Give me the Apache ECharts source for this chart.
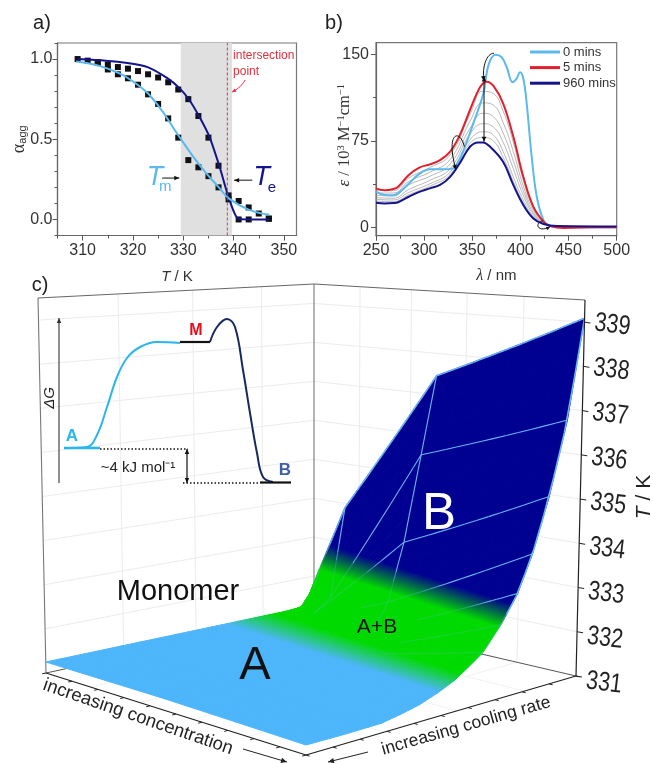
<!DOCTYPE html>
<html>
<head>
<meta charset="utf-8">
<style>html,body{margin:0;padding:0;background:#fff}#c{width:653px;height:763px}</style>
<script src="https://cdn.jsdelivr.net/npm/echarts@6/dist/echarts.min.js"></script>
</head>
<body>
<div id="c"></div>
<script>
// ---------- panel a data ----------
const squareTemps = [309,311,313,315,317,319,321,323,325,327,329,331,333,335,337,339,341,343,345,347];
const squaresUpper = [1,0.99,0.98,0.965,0.95,0.94,0.925,0.905,0.885,0.855,0.81,0.75,0.645,0.51,0.335,0.15,0,0,null,0.005];
const squaresLower = [null,null,0.975,0.935,0.905,0.88,0.84,0.78,0.72,0.63,0.51,0.37,0.325,0.27,0.2,0.125,0.115,0.075,0.037,0.005];
const fitMeltT = [308.7,315,320.9,325,329,333.2,337.2,339.1,343.1,347.1];
const fitMelt = [0.985,0.94,0.84,0.71,0.525,0.34,0.195,0.13,0.06,0.03];
const fitElongT = [309,314.6,318.9,322.9,326.9,329.2,331.2,333.2,335.2,337.2,339,340.9,343.1,347.1];
const fitElong = [1,0.99,0.975,0.95,0.88,0.82,0.745,0.64,0.515,0.33,0.14,0.005,0,0];
const bandRange = [329.5,339.7];
const intersectionT = 338.75;
// ---------- panel b data ----------
const wl0 = [250,259,268,273,284,295,306,320,330,335.5,341,351,361.5,367,374.3,380.5,385.7,392,396,399.6,403,406.5,411.7,417,424,431,445,500];
const eps0 = [31.2,28.3,28,29.7,38,46.5,50.5,50.5,51.3,57,67,90,116,141,149.5,147.4,139,125.8,129,134.4,129,107.6,61.4,26.8,6.6,1.5,0.3,0.5];
const wl5 = [250,259,268,273,284,295,306,316.5,327,337,347.6,358,365,372,382,392.6,403,413.4,424,431,445,479,500];
const eps5 = [34,32.3,33.5,35.5,45.6,52,54.8,58.5,65.8,80,101.8,121.4,126.3,122.6,107.6,78.8,44,18.2,5.2,1.4,-0.3,0.5,0.5];
const wl960 = [250,259,268,273,284,295,306,316.5,327,337,347.6,356,361,368.5,382,392.6,403,413.4,424,438,500];
const eps960 = [21.6,21,21.3,22,26.8,31,34,37,44,55.7,70,73.8,73.8,70,57,37,19.6,8,3.2,1.4,1];
const wlGrey = [250,268,284,306,327,347.6,361,372,382,392.6,403,413.4,424,438,500];
const epsGrey1 = [32.5,32,43,52,63,98,118,116,101,74,41,17,5,1.2,0.6];
const epsGrey2 = [30,30,40,48,59,92,108,106,91,66,36,15,4.5,1.3,0.7];
const epsGrey3 = [28,27.5,37,44.5,55,86,99,96,82,58,32,13,4.2,1.3,0.7];
const epsGrey4 = [26,25.5,33,41,51,81,90,87,74,51,28,11.5,3.8,1.3,0.8];
const epsGrey5 = [24.5,24,30.5,38,48,76,83,80,66,44,24,10,3.5,1.4,0.9];
const epsGrey6 = [23,22.5,28.5,36,46,73,78,75,61,40,21.5,9,3.3,1.4,0.9];
// ---------- panel c data ----------
const concentrationLevels = [0,0.02,0.117,0.456,1];
const coolingLevels = [0,0.14,0.28,0.35,0.42,0.487,0.55,0.6,0.653,0.718,0.778,0.83,0.887,0.947,1];
const surfaceT = [
  [331.25,331.25,331.25,331.25,331.2],
  [331.25,331.25,331.25,331.25,331.19],
  [331.25,331.25,331.25,331.25,331.2],
  [331.25,331.25,331.25,331.25,331.27],
  [331.25,331.25,331.25,331.25,331.36],
  [331.25,331.25,331.25,331.26,331.5],
  [331.25,331.25,331.25,331.27,331.67],
  [331.25,331.25,331.25,331.28,331.87],
  [331.25,331.25,331.27,331.3,332.1],
  [331.25,331.25,331.28,331.3,332.6],
  [331.25,331.28,331.3,331.65,333.2],
  [331.25,331.28,331.3,332.24,334.0],
  [331.25,331.3,331.4,333.58,335.2],
  [331.25,331.35,331.7,335.6,336.84],
  [331.7,332.2,333.9,337.46,339.09]
];
const tTicks = [331,332,333,334,335,336,337,338,339];
// energy diagram (reaction coordinate, free energy)
const pathAX = [5,28,38,48,58,68,81,98,121];
const pathAG = [35,36,48,76,106,125,136,141,140];
const pathBX = [151,158,168,176,184,191,198,204,214];
const pathBG = [141,156,164,156,113,70,30,6,1];

// ---------- projection of the 3D box ----------
const FONT = '"Liberation Sans", Arial, sans-serif';
const SERIF = '"Liberation Serif", serif';
const box = {L:[46,673],F:[306,755],K:[314,615],R:[576,676],Lt:[38,298],Ft:[303,330],Kt:[314,284],Rt:[585,300]};
const T_MIN = 331, T_MAX = 339.5;
function bil(p00,p10,p01,p11,a,b,i){
  return p00[i]*(1-a)*(1-b)+p10[i]*a*(1-b)+p01[i]*(1-a)*b+p11[i]*a*b;
}
function project(a,b,T){
  const f=(T-T_MIN)/(T_MAX-T_MIN);
  const r=[];
  for(let i=0;i<2;i++){
    const lo=bil(box.L,box.F,box.K,box.R,a,b,i), hi=bil(box.Lt,box.Ft,box.Kt,box.Rt,a,b,i);
    r.push(lo+(hi-lo)*f);
  }
  return r;
}
function clamp(v){return Math.max(0,Math.min(1,v));}
function phaseWeights(x,y){
  const t1=clamp((y-(623+0.28*(x-250))+13)/26);
  const t2=clamp(((560+0.365*(x-343))-y+14)/28);
  return [t1,t2];
}
function cellT(c,r,u,v){
  const g=surfaceT;
  return g[r][c]*(1-u)*(1-v)+g[r][c+1]*u*(1-v)+g[r+1][c]*(1-u)*v+g[r+1][c+1]*u*v;
}
// facets of the surface
const subA=[1,2,3,6], SUBB=3;
const facets=[];
for(let r=coolingLevels.length-2;r>=0;r--){
  for(let c=0;c<concentrationLevels.length-1;c++){
    const n=subA[c], m=SUBB;
    for(let j=m-1;j>=0;j--) for(let i=0;i<n;i++){
      const pt=(ii,jj)=>{
        const u=ii/n,v=jj/m;
        const a=concentrationLevels[c]+(concentrationLevels[c+1]-concentrationLevels[c])*u;
        const b=coolingLevels[r]+(coolingLevels[r+1]-coolingLevels[r])*v;
        return project(a,b,cellT(c,r,u,v));
      };
      facets.push({pts:[pt(i,j),pt(i+1,j),pt(i+1,j+1),pt(i,j+1)]});
    }
  }
}
// the shared phase gradient (colour bands A / A+B / B across the surface)
const phaseGrad=new echarts.graphic.LinearGradient(400,558,362.3,675.9,[
  {offset:0,color:'#000091'},{offset:0.074,color:'#000091'},
  {offset:0.289,color:'#00DA00'},{offset:0.738,color:'#00DA00'},
  {offset:0.938,color:'#4DB5FA'},{offset:1,color:'#4DB5FA'}],true);
// mesh lines on the surface
const meshSegs=[];
function meshLine(c0,r0,c1,r1,width){
  const steps=24;
  const at=(c,r)=>{
    const ci=Math.min(Math.floor(c),concentrationLevels.length-2), ri=Math.min(Math.floor(r),coolingLevels.length-2);
    const u=c-ci,v=r-ri;
    const a=concentrationLevels[ci]+(concentrationLevels[ci+1]-concentrationLevels[ci])*u;
    const b=coolingLevels[ri]+(coolingLevels[ri+1]-coolingLevels[ri])*v;
    return project(a,b,cellT(ci,ri,u,v));
  };
  for(let s=0;s<steps;s++){
    const p=at(c0+(c1-c0)*s/steps,r0+(r1-r0)*s/steps), q=at(c0+(c1-c0)*(s+1)/steps,r0+(r1-r0)*(s+1)/steps);
    const w=phaseWeights((p[0]+q[0])/2,(p[1]+q[1])/2);
    const alpha=Math.max(w[1],(1-w[0])*0.22);
    if(alpha>0.03) meshSegs.push({p,q,alpha,width});
  }
}
const lastRow=coolingLevels.length-1;
const rowOf=b=>coolingLevels.indexOf(b);
[0.653,0.718,0.778].forEach(b=>{const r=rowOf(b);meshLine(3.3,r,4,r,1.1);});
meshLine(2.7,rowOf(0.83),4,rowOf(0.83),1.1);
[0.887,0.947].forEach(b=>{const r=rowOf(b);meshLine(2,r,4,r,1.1);});
meshLine(3,rowOf(0.778),3,lastRow,1.1);
meshLine(2,rowOf(0.887),2,lastRow,1.1);
meshLine(4,0,4,lastRow,1.6);
for(let c=0;c<4;c++) meshLine(c,lastRow,c+1,lastRow,1.6);

// box lines
const wallA=[0.17,0.36,0.565,0.775], wallB=[0.29,0.56,0.81];
const boxLines=[];
function addBox(p,q,color,width){boxLines.push({p,q,color,width});}
const GRIDC='#ececec';
wallA.forEach(a=>{addBox(project(a,1,T_MIN),project(a,1,T_MAX),GRIDC,1);addBox(project(a,0,T_MIN),project(a,1,T_MIN),'#f2f2f2',1);});
wallB.forEach(b=>{addBox(project(0,b,T_MIN),project(0,b,T_MAX),GRIDC,1);addBox(project(0,b,T_MIN),project(1,b,T_MIN),'#f2f2f2',1);});
tTicks.slice(1).forEach(T=>{addBox(project(0,0,T),project(0,1,T),GRIDC,1);addBox(project(0,1,T),project(1,1,T),GRIDC,1);});
const E=(a,b,T)=>project(a,b,T);
addBox(E(0,0,T_MIN),E(0,0,T_MAX),'#777',1.1);
addBox(E(0,0,T_MAX),E(0,1,T_MAX),'#666',1.1);
addBox(E(0,1,T_MAX),E(1,1,T_MAX),'#666',1.1);
addBox(E(0,1,T_MIN),E(0,1,T_MAX),'#777',1.1);
addBox(E(0,0,T_MIN),E(0,1,T_MIN),'#555',1);
addBox(E(0,1,T_MIN),E(1,1,T_MIN),'#555',1);
const frontLines=[];
frontLines.push({p:E(0,0,T_MIN),q:E(1,0,T_MIN),color:'#222',width:1.3});
frontLines.push({p:E(1,0,T_MIN),q:E(1,1,T_MIN),color:'#222',width:1.3});
frontLines.push({p:E(1,1,T_MIN),q:E(1,1,T_MAX),color:'#222',width:1.2});
for(let k=0;k<=10;k++){
  const s=k/10;
  frontLines.push({p:E(s,0,T_MIN),q:E(s,-0.014,T_MIN),color:'#222',width:1});
  frontLines.push({p:E(1,s,T_MIN),q:E(1.014,s,T_MIN),color:'#222',width:1});
}
tTicks.forEach(T=>{const p=E(1,1,T);frontLines.push({p,q:[p[0]+6,p[1]+1],color:'#222',width:1});});

function lineSeries(items,z){
  return {type:'custom',xAxisIndex:3,yAxisIndex:4,z,silent:true,animation:false,
    data:items.map((_,i)=>[i,0]),
    renderItem(params,api){
      const s=items[params.dataIndex];
      const a=api.coord(s.p),b=api.coord(s.q);
      return {type:'line',shape:{x1:a[0],y1:a[1],x2:b[0],y2:b[1]},
        style:{stroke:s.color,lineWidth:s.width,opacity:s.alpha==null?1:s.alpha}};
    }};
}
// generic annotation series: arrows + text, in the units of the chosen axes
function annotationSeries(xi,yi,items,z){
  return {type:'custom',xAxisIndex:xi,yAxisIndex:yi,z,silent:true,animation:false,
    data:items.map((_,i)=>[i,0]),
    renderItem(params,api){
      const it=items[params.dataIndex];
      if(it.text!==undefined){
        const p=api.coord([it.x,it.y]);
        const style={text:it.text,x:0,y:0,align:it.align||'center',verticalAlign:'middle',
          fill:it.color||'#222',font:(it.italic?'italic ':'')+(it.bold?'bold ':'')+(it.size||14)+'px '+(it.family||FONT)};
        if(it.rich) style.rich=it.rich;
        return {type:'text',x:p[0],y:p[1],rotation:(it.rot||0)*Math.PI/180,scaleX:it.sx||1,scaleY:it.sy||1,style};
      }
      const pts=it.pts.map(q=>api.coord(q));
      const color=it.color||'#111', hs=it.head||5, w=it.width||1;
      const children=[];
      if(pts.length===4){
        children.push({type:'bezierCurve',shape:{x1:pts[0][0],y1:pts[0][1],cpx1:pts[1][0],cpy1:pts[1][1],cpx2:pts[2][0],cpy2:pts[2][1],x2:pts[3][0],y2:pts[3][1]},style:{stroke:color,lineWidth:w,fill:'none'}});
      }else{
        children.push({type:'line',shape:{x1:pts[0][0],y1:pts[0][1],x2:pts[1][0],y2:pts[1][1]},style:{stroke:color,lineWidth:w}});
      }
      const head=(tip,from)=>{
        const dx=tip[0]-from[0],dy=tip[1]-from[1],l=Math.hypot(dx,dy)||1,ux=dx/l,uy=dy/l;
        children.push({type:'polygon',shape:{points:[tip,[tip[0]-ux*hs-uy*hs*0.45,tip[1]-uy*hs+ux*hs*0.45],[tip[0]-ux*hs+uy*hs*0.45,tip[1]-uy*hs-ux*hs*0.45]]},style:{fill:color}});
      };
      head(pts[pts.length-1],pts[pts.length-2]);
      if(it.both) head(pts[0],pts[1]);
      return {type:'group',children};
    }};
}
const LIGHT='#5BB9EE', DARK='#14148C', RED='#E0202C';
const annA=[
  {text:'intersection',x:339.9,y:1.019,align:'left',size:12,color:'#E0303C'},
  {text:'point',x:339.9,y:0.919,align:'left',size:12,color:'#E0303C'},
  {pts:[[342.3,0.869],[341.6,0.83],[340.6,0.81],[339.7,0.794]],color:'#E0303C',head:4,width:1},
  {text:'T',x:324.4,y:0.264,size:27,italic:true,color:LIGHT},
  {text:'m',x:326.4,y:0.202,size:15,color:LIGHT},
  {text:'T',x:345.6,y:0.264,size:27,italic:true,color:DARK},
  {text:'e',x:347.6,y:0.195,size:15,color:DARK},
  {pts:[[325.8,0.258],[329.2,0.258]],head:5},
  {pts:[[343.7,0.245],[340.1,0.245]],head:5}
];
const annB=[
  {pts:[[362.2,130.7],[362.2,74.4]],both:true,head:5},
  {pts:[[372.6,150.9],[365,150.9],[359.8,139.3],[362.2,126.9]],head:5},
  {pts:[[341.8,70.1],[337.3,86],[321.7,83.1],[333.1,49.9]],head:5},
  {pts:[[423.2,6],[413.5,3.8],[418.6,-4.9],[430.8,0.9]],head:4}
];
const annInset=[
  {pts:[[0,0],[0,165]],head:5,width:1.1,color:'#333'},
  {pts:[[128,17],[128,34]],head:5,width:1.2},
  {pts:[[128,17],[128,0]],head:5,width:1.2},
  {text:'A',x:13,y:47,bold:true,size:17,color:'#29B6EE'},
  {text:'M',x:137,y:152,bold:true,size:16,color:'#E3101C'},
  {text:'B',x:226,y:13,bold:true,size:17,color:'#3F5FA8'},
  {text:'~4 kJ mol⁻¹',x:79,y:15,size:15,color:'#222'},
  {text:'ΔG',x:-9,y:85,size:15,italic:true,rot:90,color:'#222'}
];
const annPage=[
  {text:'a)',x:42,y:23,size:20,color:'#222'},
  {text:'b)',x:334,y:23,size:20,color:'#222'},
  {text:'c)',x:40,y:285,size:20,color:'#222'},
  {text:'Monomer',x:178,y:592,size:29,color:'#111'},
  {text:'A',x:255,y:666,size:47,color:'#111'},
  {text:'B',x:439,y:515,size:51,color:'#fff'},
  {text:'A+B',x:377,y:627,size:21,color:'#111'},
  {text:'increasing concentration',x:138,y:717,size:18.4,rot:-19,color:'#222'},
  {text:'increasing cooling rate',x:466,y:726,size:17.5,rot:16,color:'#222'},
  {text:'{i|T} / K',x:644,y:497,size:21,rot:90,color:'#222',rich:{i:{fontStyle:'italic',fontSize:21,fill:'#222',fontFamily:FONT}}},
  {pts:[[243,749],[287,762]],head:6,width:1,color:'#222'},
  {pts:[[368,752],[328,762]],head:6,width:1,color:'#222'}
];
tTicks.forEach(T=>{
  const p=project(1,1,T);
  annPage.push({text:String(T),x:p[0]+28,y:p[1]+3+(339-T)*0.5,size:27,sx:0.8,sy:1,rot:-7,color:'#222'});
});

function axisBase(extra){
  return Object.assign({type:'value',splitLine:{show:false},nameMoveOverlap:false,
    axisLine:{show:true,onZero:false,lineStyle:{color:'#666',width:1.2}},
    axisTick:{show:true,length:5,lineStyle:{color:'#555'}},
    axisLabel:{color:'#333',fontSize:16,fontFamily:FONT,margin:8},
    nameTextStyle:{color:'#333',fontSize:15,fontFamily:FONT}},extra);
}
function minorAxis(values,extra){
  return Object.assign(axisBase({}),{axisLine:{show:false,onZero:false},
    axisLabel:{show:false,customValues:[]},
    axisTick:{show:true,length:3,customValues:values,lineStyle:{color:'#555'}}},extra);
}
const hidden=(extra)=>Object.assign({type:'value',show:false,splitLine:{show:false}},extra);

const option={
  animation:false,backgroundColor:'#fff',
  textStyle:{fontFamily:FONT},
  legend:{data:['0 mins','5 mins','960 mins'],left:530,top:45,orient:'vertical',icon:'rect',itemWidth:30,itemHeight:3,itemGap:1.6,padding:0,
    selectedMode:false,textStyle:{fontSize:13,lineHeight:14,color:'#333',fontFamily:FONT,padding:[0,0,0,-2]}},
  grid:[
    {left:57.5,top:43,width:239,height:192.5,show:true,borderColor:'#777',borderWidth:1.2,outerBoundsMode:'none'},
    {left:376,top:42.7,width:240.7,height:193,show:true,borderColor:'#777',borderWidth:1.2,outerBoundsMode:'none'},
    {left:0,top:0,width:653,height:763,outerBoundsMode:'none'},
    {left:59,top:319,width:232,height:164,outerBoundsMode:'none'}
  ],
  xAxis:[
    axisBase({gridIndex:0,position:'bottom',min:305,max:352.5,name:'{i|T} / K',nameLocation:'center',nameGap:33.5,
      nameTextStyle:{color:'#333',fontSize:15,fontFamily:FONT,rich:{i:{fontStyle:'italic',fontSize:15,color:'#333',fontFamily:FONT}}},
      axisLabel:{color:'#333',fontSize:16,fontFamily:FONT,margin:7,customValues:[310,320,330,340,350]},
      axisTick:{show:true,length:5,customValues:[310,320,330,340,350],lineStyle:{color:'#555'}}}),
    minorAxis([305,315,325,335,345],{gridIndex:0,position:'bottom',min:305,max:352.5}),
    axisBase({gridIndex:1,position:'bottom',min:250,max:500,interval:50,name:'{i|λ} / nm',nameLocation:'center',nameGap:32.5,
      minorTick:{show:true,splitNumber:2,length:3,lineStyle:{color:'#555'}},
      nameTextStyle:{color:'#333',fontSize:15,fontFamily:FONT,rich:{i:{fontStyle:'italic',fontSize:16,color:'#333',fontFamily:SERIF}}},
      axisLabel:{color:'#333',fontSize:16,fontFamily:FONT,margin:7}}),
    hidden({gridIndex:2,min:0,max:653}),
    hidden({gridIndex:3,min:0,max:232})
  ],
  yAxis:[
    axisBase({gridIndex:0,position:'left',min:-0.1,max:1.1,name:'{a|α}{s|agg}',nameLocation:'center',nameGap:29,nameRotate:90,
      nameTextStyle:{color:'#333',rich:{a:{fontSize:18,color:'#333',fontFamily:SERIF},s:{fontSize:11,color:'#333',fontFamily:FONT,verticalAlign:'bottom'}}},
      axisLabel:{color:'#333',fontSize:16,fontFamily:FONT,margin:5,customValues:[0,0.5,1],formatter:v=>v.toFixed(1)},
      axisTick:{show:true,length:5,customValues:[0,0.5,1],lineStyle:{color:'#555'}}}),
    minorAxis([-0.1,0.1,0.2,0.3,0.4,0.6,0.7,0.8,0.9,1.1],{gridIndex:0,position:'left',min:-0.1,max:1.1}),
    axisBase({gridIndex:1,position:'left',min:-6.9,max:160,name:'{i|ε} / 10{u|3} M{u|−1}cm{u|−1}',nameLocation:'center',nameGap:23,nameRotate:90,
      nameTextStyle:{color:'#333',fontSize:16.5,fontFamily:SERIF,padding:[0,0,0,8],rich:{i:{fontStyle:'italic',fontSize:17,color:'#333',fontFamily:SERIF},u:{fontSize:10.5,color:'#333',fontFamily:SERIF,verticalAlign:'top'}}},
      axisLabel:{color:'#333',fontSize:16,fontFamily:FONT,margin:7,customValues:[0,75,150]},
      axisTick:{show:true,length:5,customValues:[0,75,150],lineStyle:{color:'#555'}}}),
    minorAxis([37.5,112.5],{gridIndex:1,position:'left',min:-6.9,max:160}),
    hidden({gridIndex:2,min:0,max:763,inverse:true}),
    hidden({gridIndex:3,min:0,max:164})
  ],
  series:[]
};
const S=option.series;
const zip=(a,b)=>a.map((v,i)=>[v,b[i]]);
// panel a
S.push({type:'custom',xAxisIndex:0,yAxisIndex:0,z:1,silent:true,data:[[0,0]],
  renderItem(p,api){
    const a=api.coord([bandRange[0],1.1]),b=api.coord([bandRange[1],-0.1]);
    return {type:'rect',shape:{x:a[0],y:a[1],width:b[0]-a[0],height:b[1]-a[1]},style:{fill:'#E0E0E0'}};
  }});
const squareSeries=(vals)=>({type:'scatter',xAxisIndex:0,yAxisIndex:0,z:3,symbol:'rect',symbolSize:6,itemStyle:{color:'#111',opacity:1},
  data:zip(squareTemps,vals).filter(d=>d[1]!==null)});
S.push(squareSeries(squaresUpper),squareSeries(squaresLower));
S.push({type:'line',xAxisIndex:0,yAxisIndex:0,z:4,data:zip(fitElongT,fitElong),smooth:0.25,showSymbol:false,symbol:'none',lineStyle:{color:DARK,width:2}});
S.push({type:'line',xAxisIndex:0,yAxisIndex:0,z:5,data:zip(fitMeltT,fitMelt),smooth:0.45,showSymbol:false,symbol:'none',lineStyle:{color:LIGHT,width:2}});
S.push({type:'line',xAxisIndex:0,yAxisIndex:0,z:6,data:[[intersectionT,-0.1],[intersectionT,1.1]],symbol:'none',lineStyle:{color:'#D8384C',width:1,type:[3,2]}});
S.push(annotationSeries(0,0,annA,7));
// panel b
[epsGrey1,epsGrey2,epsGrey3,epsGrey4,epsGrey5,epsGrey6].forEach(g=>{
  S.push({type:'line',xAxisIndex:2,yAxisIndex:2,z:2,data:zip(wlGrey,g),smooth:0.45,symbol:'none',lineStyle:{color:'#A6A6A6',width:0.8}});
});
const specSeries=(name,w,e,c,z)=>({name,type:'line',xAxisIndex:2,yAxisIndex:2,z,data:zip(w,e),smooth:0.4,symbol:'none',lineStyle:{color:c,width:2},itemStyle:{color:c}});
S.push(specSeries('0 mins',wl0,eps0,LIGHT,3),specSeries('5 mins',wl5,eps5,RED,4),specSeries('960 mins',wl960,eps960,DARK,5));
S.push(annotationSeries(2,2,annB,7));
// panel c
S.push(lineSeries(boxLines,1));
S.push({type:'custom',xAxisIndex:3,yAxisIndex:4,z:2,silent:true,data:facets.map((_,i)=>[i,0]),
  renderItem(params,api){
    const f=facets[params.dataIndex];
    return {type:'polygon',shape:{points:f.pts.map(q=>api.coord(q))},style:{fill:phaseGrad,stroke:phaseGrad,lineWidth:1}};
  }});
S.push(lineSeries(meshSegs.map(s=>Object.assign({color:'#6CB6F2'},s)),3));
S.push(lineSeries(frontLines,3));
// inset energy diagram
const insetLine=(x,y,c,w,extra)=>Object.assign({type:'line',xAxisIndex:4,yAxisIndex:5,z:5,clip:false,data:zip(x,y),symbol:'none',lineStyle:{color:c,width:w}},extra||{});
S.push(insetLine(pathAX,pathAG,'#29B6EE',2,{smooth:0.4}));
S.push(insetLine(pathBX,pathBG,'#17295F',2,{smooth:0.4}));
S.push(insetLine([5,41],[35,35],'#29B6EE',2.4));
S.push(insetLine([121,151],[141,141],'#111',2.2));
S.push(insetLine([201,232],[0.5,0.5],'#111',2.2));
S.push(insetLine([41,129],[34,34],'#111',1.5,{lineStyle:{color:'#111',width:1.5,type:[1.5,2]}}));
S.push(insetLine([124,201],[0,0],'#111',1.5,{lineStyle:{color:'#111',width:1.5,type:[1.5,2]}}));
S.push(annotationSeries(4,5,annInset,6));
S.push(annotationSeries(3,4,annPage,6));

const chart=echarts.init(document.getElementById('c'),null,{renderer:'canvas',width:653,height:763});
chart.setOption(option);
</script>
</body>
</html>
